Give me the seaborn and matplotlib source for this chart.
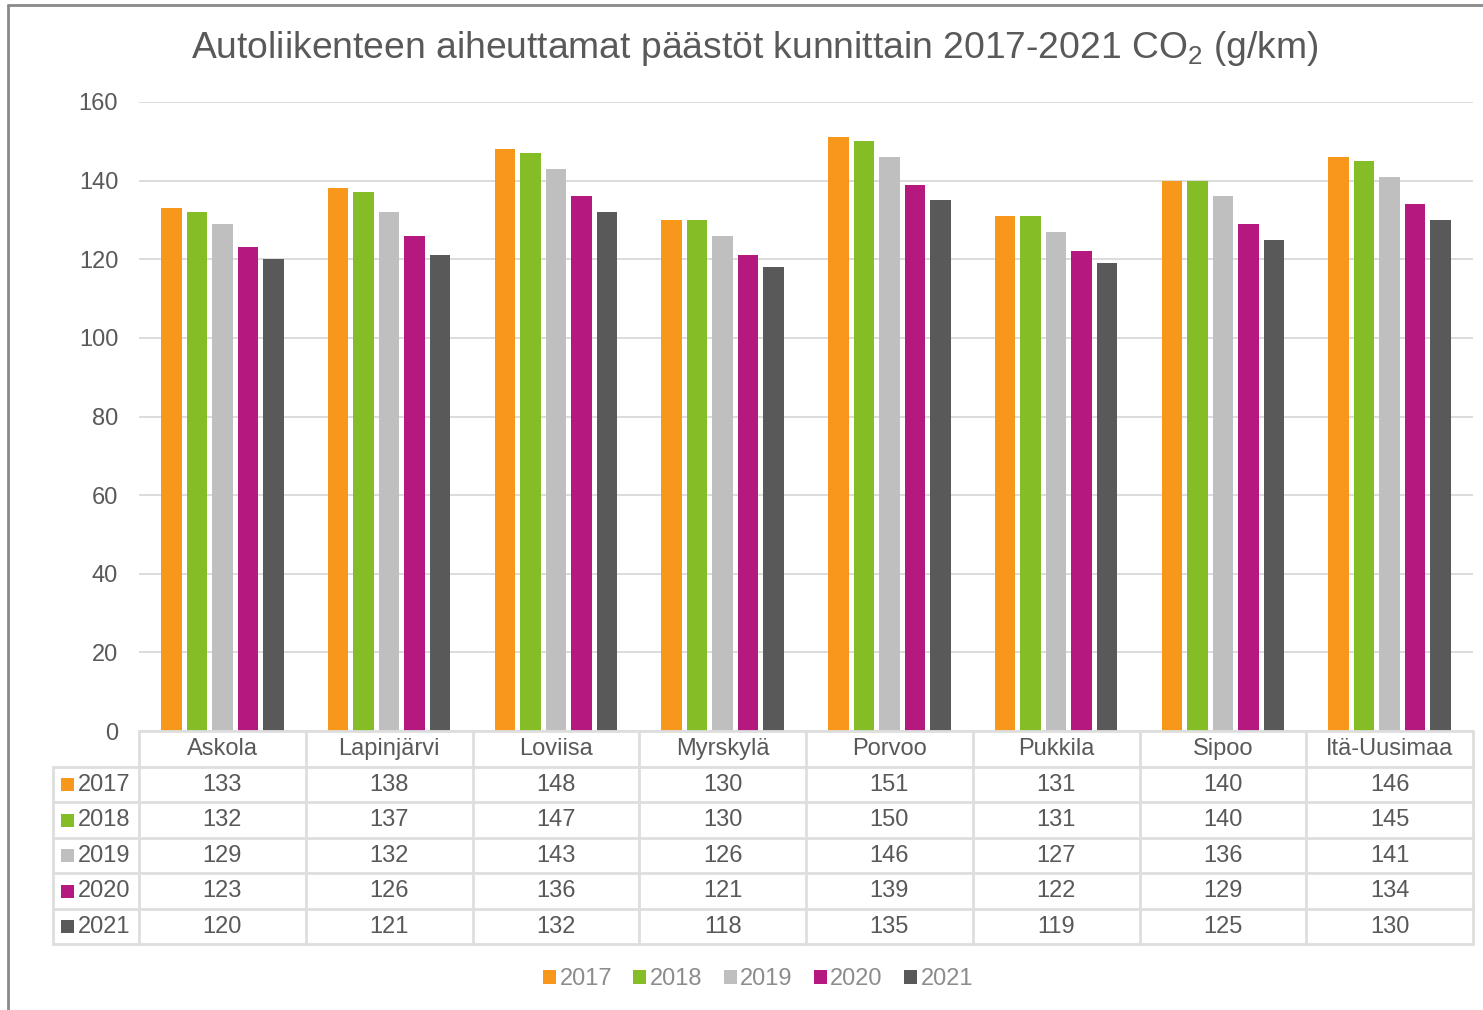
import matplotlib
matplotlib.use("Agg")
import matplotlib.pyplot as plt
import seaborn as sns
import pandas as pd
from matplotlib.patches import Rectangle, Patch
from matplotlib.lines import Line2D

# ---- data ----
kunnat = ["Askola", "Lapinjärvi", "Loviisa", "Myrskylä", "Porvoo", "Pukkila", "Sipoo", "Itä-Uusimaa"]
vuodet = ["2017", "2018", "2019", "2020", "2021"]
v2017 = [133, 138, 148, 130, 151, 131, 140, 146]
v2018 = [132, 137, 147, 130, 150, 131, 140, 145]
v2019 = [129, 132, 143, 126, 146, 127, 136, 141]
v2020 = [123, 126, 136, 121, 139, 122, 129, 134]
v2021 = [120, 121, 132, 118, 135, 119, 125, 130]
series = [v2017, v2018, v2019, v2020, v2021]
colors = ["#F7981D", "#84BD26", "#BFBFBF", "#B5197F", "#595959"]

sns.set_style("white")
plt.rcParams['font.family'] = ['Liberation Sans', 'DejaVu Sans']
plt.rcParams['mathtext.fontset'] = 'custom'
plt.rcParams['mathtext.rm'] = 'Liberation Sans'
plt.rcParams['mathtext.it'] = 'Liberation Sans:italic'

W, H = 1483, 1010
fig = plt.figure(figsize=(W / 100, H / 100), dpi=100)
fig.patch.set_facecolor("white")


def fx(px):
    return px / W


def fy(py):
    return 1 - py / H


TXT = "#595959"

rows = []
for y, vals in zip(vuodet, series):
    for k, v in zip(kunnat, vals):
        rows.append({"kunta": k, "vuosi": y, "arvo": v})
df = pd.DataFrame(rows)

ax = fig.add_axes([fx(139), fy(731), fx(1473) - fx(139), fy(102) - fy(731)])
sns.barplot(data=df, x="kunta", y="arvo", hue="vuosi", order=kunnat, hue_order=vuodet,
            palette=colors, width=0.765, gap=0.2, saturation=1, legend=False, ax=ax,
            edgecolor="none", errorbar=None)
ax.set_ylim(0, 160)
ax.set_xlim(-0.5, 7.5)
ax.set_yticks(range(0, 161, 20))
ax.yaxis.grid(True, color="#d9d9d9", lw=1.3)
ax.set_axisbelow(True)
for s in ax.spines.values():
    s.set_visible(False)
ax.set_xticks([])
ax.set_xlabel("")
ax.set_ylabel("")
ax.tick_params(axis="y", length=0, pad=15, labelsize=17, labelcolor=TXT)

# ---- data table ----
unit = (1473 - 139) / 8
xleft = -0.5 - 86 / unit
tab = fig.add_axes([fx(53), fy(944), fx(1473) - fx(53), fy(731) - fy(944)])
tab.set_xlim(xleft, 7.5)
tab.set_ylim(6, 0)
tab.axis("off")
lc = "#dedede"
lw = 2
tab.plot([-0.5, 7.5], [0, 0], color=lc, lw=lw, clip_on=False)
for r in range(1, 7):
    tab.plot([xleft, 7.5], [r, r], color=lc, lw=lw, clip_on=False)
for i in range(9):
    tab.plot([-0.5 + i, -0.5 + i], [0, 6], color=lc, lw=lw, clip_on=False)
tab.plot([xleft, xleft], [1, 6], color=lc, lw=lw, clip_on=False)

for i, k in enumerate(kunnat):
    tab.text(i, 0.52, k, ha="center", va="center", fontsize=17, color=TXT)
rowh = (944 - 731) / 6
for r, (y, vals, c) in enumerate(zip(vuodet, series, colors)):
    yc = r + 1.52
    sq = 13 / rowh
    tab.add_patch(Rectangle((xleft + 8 / unit, yc - sq / 2), 13 / unit, sq,
                            facecolor=c, edgecolor="none", clip_on=False))
    tab.text(xleft + 25 / unit, yc, y, ha="left", va="center", fontsize=17, color=TXT)
    for i, v in enumerate(vals):
        tab.text(i, yc, str(v), ha="center", va="center", fontsize=17, color=TXT)

# ---- title ----
fig.text(fx(755), fy(49), "Autoliikenteen aiheuttamat päästöt kunnittain 2017-2021 CO$_2$ (g/km)",
         ha="center", va="center", fontsize=26.8, color=TXT)

# ---- legend ----
handles = [Patch(facecolor=c, edgecolor="none", label=y) for y, c in zip(vuodet, colors)]
fig.legend(handles=handles, loc="center", bbox_to_anchor=(fx(758), fy(979)), ncol=5,
           frameon=False, fontsize=17, handlelength=0.55, handleheight=0.55,
           handletextpad=0.15, columnspacing=0.9, labelcolor="#8c8c8c")

# ---- outer border ----
fig.add_artist(Line2D([fx(8), fx(8)], [fy(5), fy(1010)], color="#8a8a8a", lw=2))
fig.add_artist(Line2D([fx(8), fx(1483)], [fy(5), fy(5)], color="#8a8a8a", lw=2))

fig.savefig("out.png", dpi=100)
